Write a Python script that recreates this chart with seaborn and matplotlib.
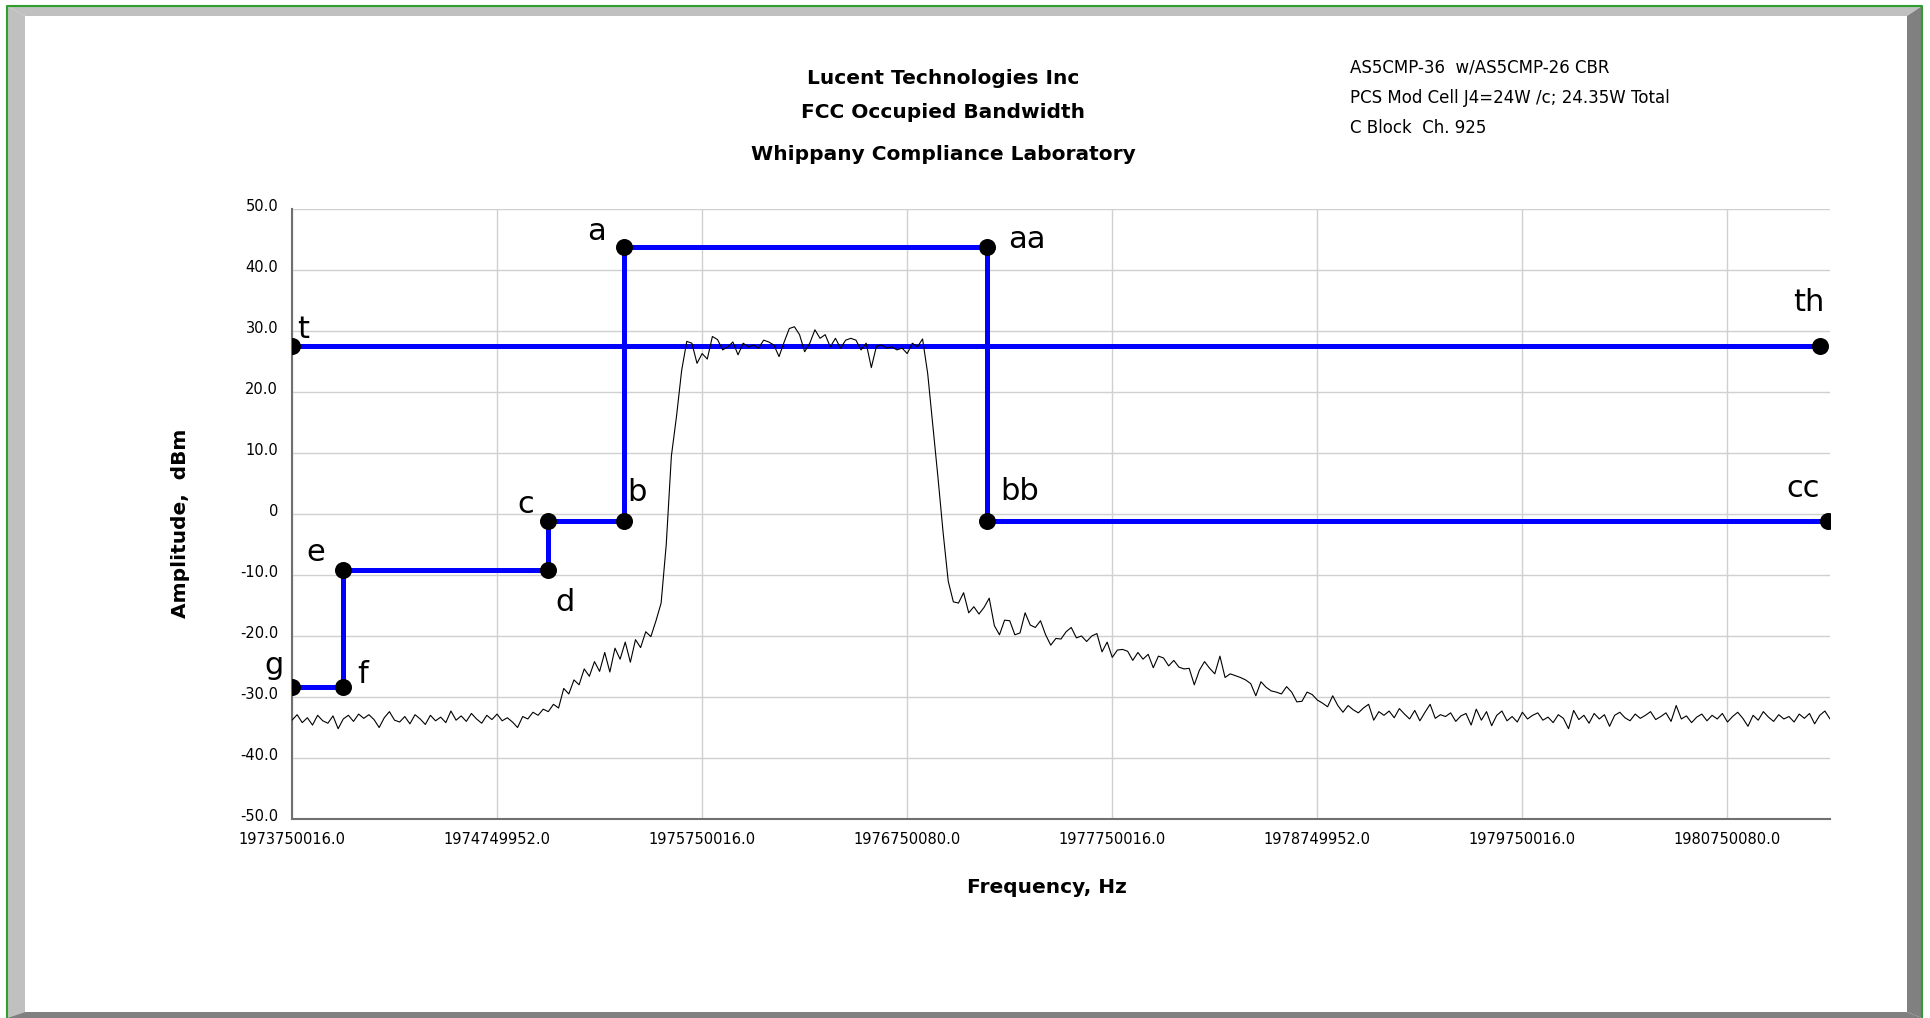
import matplotlib

matplotlib.use("Agg")
import matplotlib.pyplot as plt
import matplotlib.transforms as mtransforms
import numpy as np
import pandas as pd
import seaborn as sns
from matplotlib.patches import Polygon
from matplotlib.ticker import FixedFormatter, FixedLocator, MultipleLocator

# --- data -----------------------------------------------------------------
# analyzer sweep: 301 points, start/stop frequency in Hz, amplitude in dBm
start_hz = 1973750016.0
stop_hz = 1981250000.0
trace_dbm = [
    -33.8, -32.9, -34.2, -33.4, -34.6, -33.0, -33.9, -34.3, -33.1, -35.2,
    -33.6, -33.0, -34.0, -32.8, -33.5, -32.9, -33.7, -35.0, -33.4, -32.4,
    -33.8, -34.1, -33.2, -34.4, -32.9, -33.6, -34.5, -33.0, -33.9, -33.3,
    -34.2, -32.3, -33.8, -33.1, -34.0, -32.7, -33.6, -34.3, -33.0, -33.7,
    -32.8, -33.9, -33.4, -34.1, -35.0, -33.2, -33.6, -32.5, -33.0, -32.0,
    -32.4, -31.2, -31.8, -28.6, -29.5, -27.2, -28.0, -25.4, -26.6, -24.2,
    -25.8, -22.7, -25.9, -22.0, -23.8, -21.0, -24.3, -20.6, -21.9, -19.3,
    -20.1, -17.5, -14.6, -5.0, 9.5, 16.0, 23.5, 28.3, 28.0, 24.7,
    26.3, 25.4, 29.1, 28.6, 26.9, 27.4, 28.2, 26.1, 28.0, 27.4,
    27.7, 27.2, 28.5, 28.2, 27.7, 25.8, 28.2, 30.4, 30.7, 29.4,
    26.6, 28.0, 30.2, 28.8, 29.4, 27.4, 28.8, 27.2, 28.5, 28.8,
    28.5, 26.9, 28.0, 24.0, 27.5, 27.7, 27.2, 27.4, 26.9, 27.2,
    26.3, 28.0, 27.4, 28.7, 23.0, 14.5, 6.0, -3.0, -11.0, -14.4,
    -14.6, -12.9, -16.2, -15.2, -16.4, -15.3, -13.8, -18.3, -19.8, -17.4,
    -17.5, -19.8, -19.5, -16.2, -18.2, -18.6, -17.5, -19.8, -21.5, -20.4,
    -20.5, -19.3, -18.6, -20.3, -20.0, -20.9, -20.0, -19.6, -22.6, -21.0,
    -23.5, -22.3, -22.2, -22.5, -24.0, -22.7, -23.8, -23.0, -25.2, -23.3,
    -23.6, -24.9, -24.0, -25.1, -25.4, -25.3, -28.0, -25.6, -24.2, -25.3,
    -26.2, -23.3, -26.8, -26.2, -26.5, -26.8, -27.2, -27.8, -29.8, -27.5,
    -28.4, -29.0, -29.2, -29.5, -28.3, -29.2, -30.8, -30.7, -29.2, -29.6,
    -30.5, -31.0, -31.6, -29.8, -31.4, -32.5, -31.4, -32.1, -32.6, -31.8,
    -31.2, -33.8, -32.4, -33.0, -32.3, -33.4, -31.9, -32.8, -33.6, -32.2,
    -33.9, -32.5, -31.2, -33.5, -32.9, -33.2, -32.6, -34.0, -33.1, -32.7,
    -34.6, -32.0, -33.8, -32.4, -34.7, -33.0, -32.3, -33.9, -33.2, -34.1,
    -32.5, -33.6, -33.0, -32.6, -33.8, -33.3, -34.2, -32.9, -33.5, -35.2,
    -32.2, -33.7, -33.0, -34.3, -32.7, -33.6, -32.9, -34.8, -33.0, -32.5,
    -33.4, -33.9, -32.8, -33.5, -33.0, -32.4, -33.7, -33.2, -32.6, -34.0,
    -31.4, -33.6, -33.1, -34.2, -33.3, -32.8, -33.9, -33.0, -33.6, -32.7,
    -34.1, -33.2, -32.5, -33.5, -34.8, -33.0, -33.8, -32.4, -33.3, -34.0,
    -32.9, -33.6, -33.2, -34.1, -32.8, -33.5, -32.7, -34.4, -33.0, -32.3,
    -33.6,
]

# emission mask corner points
mask_names = ["g", "f", "e", "d", "c", "b", "a", "aa", "bb", "cc"]
mask_mhz = [1973.75, 1974.0, 1974.0, 1975.0, 1975.0, 1975.37, 1975.37, 1977.14, 1977.14, 1981.24]
mask_dbm = [-28.3, -28.3, -9.2, -9.2, -1.1, -1.1, 43.7, 43.7, -1.1, -1.1]

# power threshold line
thresh_names = ["t", "th"]
thresh_mhz = [1973.75, 1981.20]
thresh_dbm = [27.6, 27.6]

x_ticks = [1973750016, 1974749952, 1975750016, 1976750080,
           1977750016, 1978749952, 1979750016, 1980750080]
y_ticks = [-50, -40, -30, -20, -10, 0, 10, 20, 30, 40, 50]
y_tick_labels = ["-50.0", "-40.0", "-30.0", "-20.0", "-10.0", "0",
                 "10.0", "20.0", "30.0", "40.0", "50.0"]

title_lines = ["Lucent Technologies Inc", "FCC Occupied Bandwidth",
               "Whippany Compliance Laboratory"]
note_lines = ["AS5CMP-36  w/AS5CMP-26 CBR",
              "PCS Mod Cell J4=24W /c; 24.35W Total",
              "C Block  Ch. 925"]

# label offsets in pixels (dx, dy) relative to each point
label_offsets = {
    "a": (-28, 16), "aa": (40, 8), "b": (13, 28), "bb": (32, 29),
    "c": (-23, 16), "cc": (-25, 32), "d": (17, -32), "e": (-28, 18),
    "f": (19, 12), "g": (-18, 21), "t": (11, 16), "th": (-11, 43),
}

# --- frames ---------------------------------------------------------------
trace_df = pd.DataFrame({
    "freq": np.linspace(start_hz, stop_hz, len(trace_dbm)),
    "dbm": trace_dbm,
})
mask_df = pd.DataFrame({"name": mask_names,
                        "freq": np.array(mask_mhz) * 1e6,
                        "dbm": mask_dbm})
thresh_df = pd.DataFrame({"name": thresh_names,
                          "freq": np.array(thresh_mhz) * 1e6,
                          "dbm": thresh_dbm})
points_df = pd.concat([mask_df, thresh_df], ignore_index=True)

# --- plot -----------------------------------------------------------------
sns.set_style("white")
plt.rcParams["font.family"] = ["DejaVu Sans"]
plt.rcParams["text.color"] = "black"
plt.rcParams["axes.labelcolor"] = "black"

W, H = 1931, 1018
fig = plt.figure(figsize=(W / 100, H / 100), dpi=100)


def fx(px):
    return px / W


def fy(py):
    return 1 - py / H


# bevelled border around the page
light, dark = "#c0c0c0", "#808080"
bevel = [
    ([(7, 6), (1922, 6), (1907, 16), (25, 16)], light),
    ([(7, 6), (25, 16), (25, 1012), (7, 1018)], light),
    ([(1922, 6), (1922, 1018), (1907, 1012), (1907, 16)], dark),
    ([(7, 1018), (25, 1012), (1907, 1012), (1922, 1018)], dark),
]
for pts, col in bevel:
    fig.patches.append(Polygon([(fx(x), fy(y)) for x, y in pts], closed=True,
                               transform=fig.transFigure, facecolor=col,
                               edgecolor="none", zorder=0))
fig.lines.append(plt.Line2D([fx(7), fx(7), fx(1922), fx(1922)],
                            [fy(1018), fy(6), fy(6), fy(1018)],
                            transform=fig.transFigure, color="#2ca02c", lw=1.5))

ax = fig.add_axes([fx(292), fy(819), fx(1830) - fx(292), fy(209) - fy(819)])

sns.lineplot(data=thresh_df, x="freq", y="dbm", ax=ax, sort=False,
             estimator=None, color="#0000ff", lw=3.6, zorder=2)
sns.lineplot(data=mask_df, x="freq", y="dbm", ax=ax, sort=False,
             estimator=None, color="#0000ff", lw=3.6, zorder=2)
sns.lineplot(data=trace_df, x="freq", y="dbm", ax=ax, estimator=None,
             color="black", lw=0.8, zorder=3)
sns.scatterplot(data=points_df, x="freq", y="dbm", ax=ax, s=150,
                color="black", edgecolor="black", linewidth=0, zorder=5)

for name, xv, yv in zip(points_df["name"], points_df["freq"], points_df["dbm"]):
    dx, dy = label_offsets[name]
    ax.annotate(name, (xv, yv), xytext=(dx, dy), textcoords="offset pixels",
                ha="center", va="center", fontsize=22, color="black")

ax.set_xlim(start_hz, stop_hz)
ax.set_ylim(-50, 50)
ax.xaxis.set_major_locator(FixedLocator(x_ticks))
ax.xaxis.set_major_formatter(FixedFormatter([f"{v:.1f}" for v in x_ticks]))
ax.xaxis.set_minor_locator(FixedLocator([v + 500000 for v in x_ticks]))
ax.yaxis.set_major_locator(FixedLocator(y_ticks))
ax.yaxis.set_major_formatter(FixedFormatter(y_tick_labels))
ax.yaxis.set_minor_locator(MultipleLocator(2.5))

ax.grid(True, which="major", color="#d0d0d0", lw=1.0)
ax.set_axisbelow(True)
for side in ["top", "right"]:
    ax.spines[side].set_visible(False)
for side in ["left", "bottom"]:
    ax.spines[side].set_color("#707070")
    ax.spines[side].set_linewidth(1.5)

ax.tick_params(axis="both", which="both", direction="inout", color="#404040",
               labelsize=10.5, labelcolor="black")
ax.tick_params(axis="x", which="major", length=10, width=1, pad=4)
ax.tick_params(axis="x", which="minor", length=8, width=1)
ax.tick_params(axis="y", which="major", length=10, width=1, pad=5)
ax.tick_params(axis="y", which="minor", length=7, width=1, color="#909090")

lift = mtransforms.ScaledTranslation(0, 0.04, fig.dpi_scale_trans)
for lbl in ax.get_yticklabels():
    lbl.set_transform(lbl.get_transform() + lift)

ax.set_xlabel("Frequency, Hz", fontsize=14.5, fontweight="bold", va="center")
ax.xaxis.set_label_coords(0.491, -0.1115)
ax.set_ylabel("Amplitude,  dBm", fontsize=14.5, fontweight="bold", va="center")
ax.yaxis.set_label_coords(-0.0728, 0.485)

for text, py in zip(title_lines, [79, 113, 155]):
    fig.text(fx(943), fy(py), text, ha="center", va="center",
             fontsize=14.5, fontweight="bold")
for text, py in zip(note_lines, [68, 98, 128]):
    fig.text(fx(1350), fy(py), text, ha="left", va="center", fontsize=12)

fig.savefig("out.png", dpi=100)
plt.close(fig)
